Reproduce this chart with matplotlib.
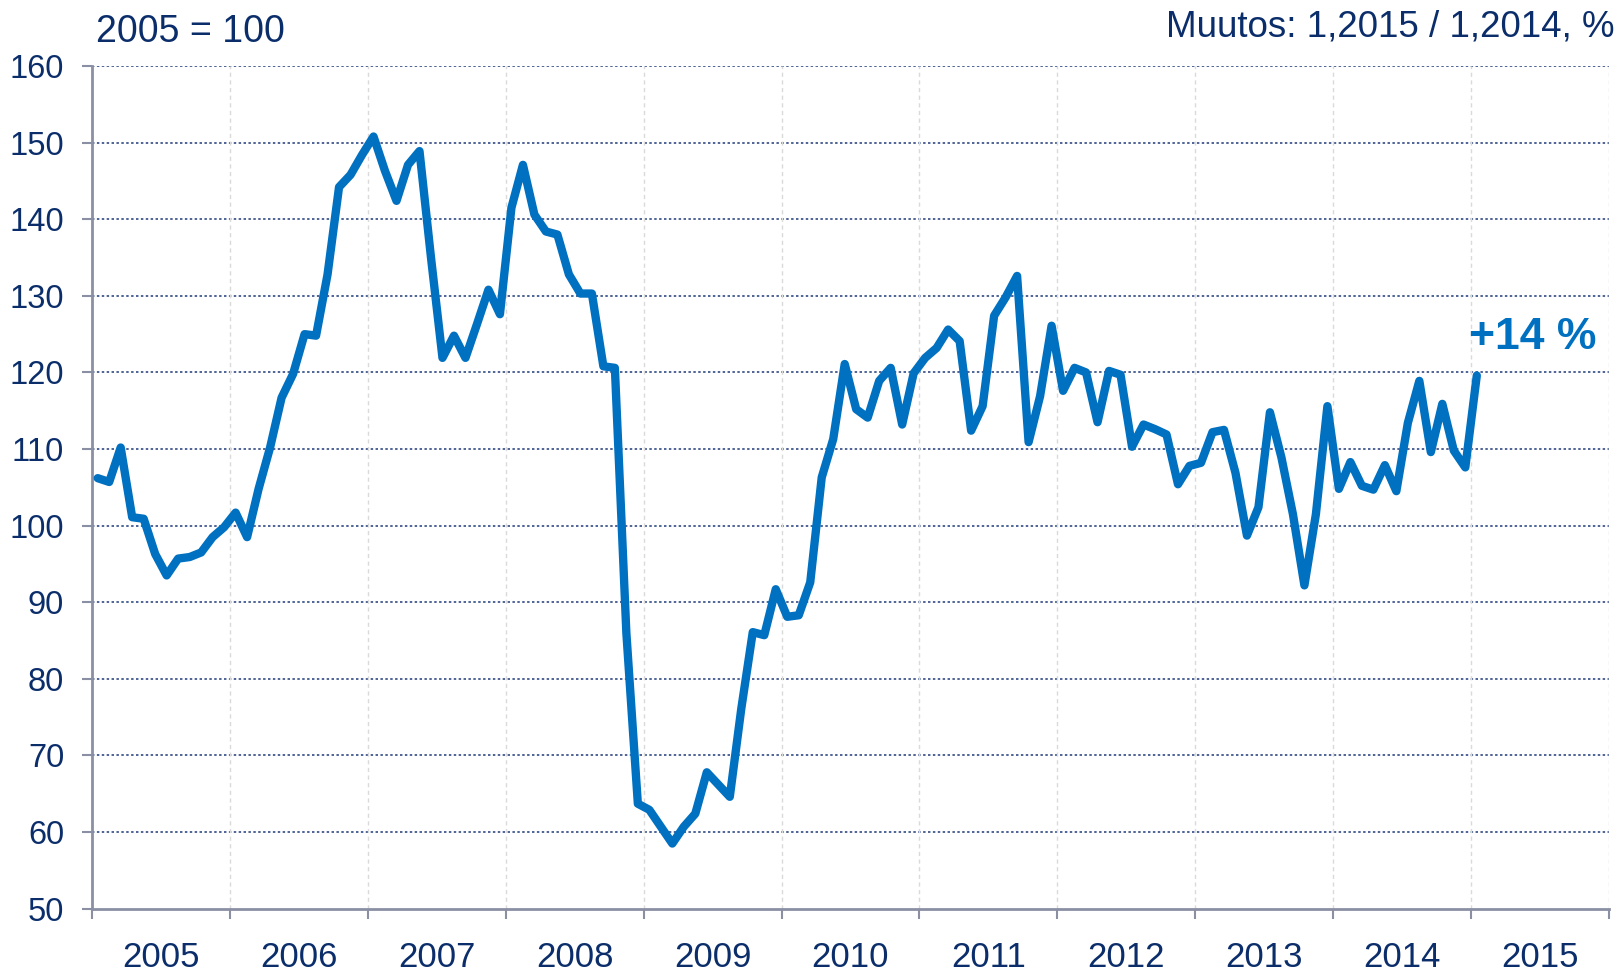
import matplotlib
matplotlib.use("Agg")
import matplotlib.pyplot as plt
from matplotlib.ticker import FixedLocator, NullFormatter, FixedFormatter
import numpy as np

plt.rcParams['font.family'] = ['Liberation Sans', 'DejaVu Sans']

# monthly index, 2005 = 100, Jan 2005 .. Jan 2015
index_values = [
    106.2, 105.7, 110.2, 101.1, 100.9, 96.3, 93.5, 95.7, 95.9, 96.5, 98.5, 99.8,      # 2005
    101.7, 98.5, 104.8, 110.2, 116.7, 119.8, 125.0, 124.8, 132.8, 144.2, 145.8, 148.4,  # 2006
    150.8, 146.3, 142.4, 147.1, 148.9, 135.0, 121.9, 124.8, 121.9, 126.3, 130.8, 127.6,  # 2007
    141.5, 147.1, 140.6, 138.4, 138.0, 132.8, 130.3, 130.3, 120.8, 120.6, 86.0, 63.7,   # 2008
    62.9, 60.7, 58.5, 60.7, 62.4, 67.8, 66.2, 64.6, 76.1, 86.1, 85.7, 91.7,            # 2009
    88.1, 88.3, 92.6, 106.3, 111.3, 121.1, 115.2, 114.1, 118.9, 120.6, 113.2, 119.9,   # 2010
    121.9, 123.2, 125.6, 124.1, 112.4, 115.6, 127.4, 129.8, 132.6, 110.9, 116.9, 126.1, # 2011
    117.6, 120.6, 120.0, 113.5, 120.2, 119.7, 110.3, 113.2, 112.6, 111.9, 105.4, 107.8, # 2012
    108.2, 112.2, 112.5, 106.9, 98.7, 102.4, 114.8, 108.9, 101.5, 92.2, 101.5, 115.6,  # 2013
    104.8, 108.3, 105.2, 104.7, 107.9, 104.5, 113.4, 118.9, 109.6, 115.9, 109.8, 107.6, # 2014
    119.6,                                                                              # 2015
]
start_year = 2005
years = list(range(2005, 2016))
change_label = "+14 %"

months = np.arange(len(index_values))
x = start_year + (months + 0.5) / 12.0

navy = "#0B2E6B"
blue = "#0070C0"
axis_gray = "#8A8FA3"

fig = plt.figure(figsize=(16.19, 9.74), dpi=100)
ax = fig.add_axes([0.0568, 0.0671, 0.9370, 0.8651])

ax.plot(x, index_values, color=blue, linewidth=6, solid_joinstyle="round",
        solid_capstyle="round", zorder=3)

ax.set_xlim(2005, 2016)
ax.set_ylim(50, 160)

# horizontal dotted grid
ax.set_yticks(np.arange(50, 161, 10))
for v in range(60, 161, 10):
    ax.axhline(v, color="#1F3A7A", linewidth=1.1, linestyle=(0, (1.6, 1.6)), zorder=1)

# vertical year grid
ax.xaxis.set_major_locator(FixedLocator(list(range(2005, 2017))))
ax.xaxis.set_major_formatter(NullFormatter())
ax.xaxis.set_minor_locator(FixedLocator([y + 0.5 for y in years]))
ax.xaxis.set_minor_formatter(FixedFormatter([str(y) for y in years]))
for yr in range(2006, 2017):
    ax.axvline(yr, color="#DADADA", linewidth=1.0, linestyle=(0, (3, 2.5)), zorder=1)

for side in ["top", "right"]:
    ax.spines[side].set_visible(False)
for side in ["left", "bottom"]:
    ax.spines[side].set_color(axis_gray)
    ax.spines[side].set_linewidth(2)

ax.tick_params(axis="y", which="major", direction="out", length=7, width=1.5,
               color=axis_gray, labelsize=23.5, labelcolor=navy, pad=13)
ax.tick_params(axis="x", which="major", direction="out", length=7, width=1.5,
               color=axis_gray)
ax.tick_params(axis="x", which="minor", length=0, labelsize=25, labelcolor=navy, pad=23)

fig.text(0.059, 0.967, "2005 = 100", fontsize=27, color=navy, ha="left", va="center")
fig.text(0.997, 0.972, "Muutos: 1,2015 / 1,2014, %", fontsize=26.5, color=navy,
         ha="right", va="center")

ax.text(2015.45, 124.6, change_label, fontsize=32, fontweight="bold", color=blue,
        ha="center", va="center")

fig.savefig("out.png", dpi=100)
